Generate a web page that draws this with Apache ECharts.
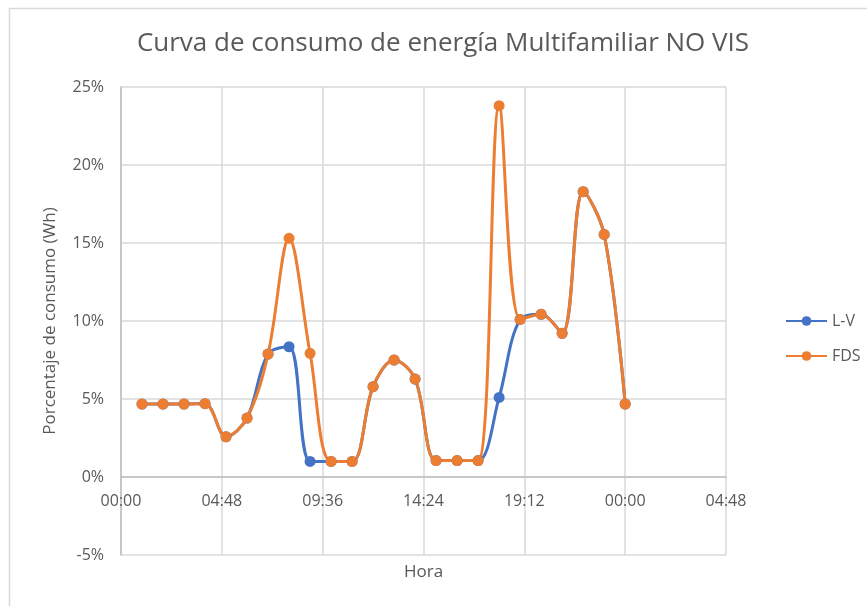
<!DOCTYPE html>
<html lang="es">
<head>
    <meta charset="UTF-8">
    <title>Curva de consumo de energía Multifamiliar NO VIS</title>
    <script src="https://cdn.jsdelivr.net/npm/echarts@6/dist/echarts.min.js"></script>
    <style>
        html, body { margin: 0; padding: 0; background: #fff; }
    </style>
</head>
<body>
<div id="chart" style="width: 867px;height: 606px;"></div>
<script>
    // hora del día (1 = 01:00 ... 24 = 00:00 del día siguiente)
    var horas = [1, 2, 3, 4, 5, 6, 7, 8, 9, 10, 11, 12, 13, 14, 15, 16, 17, 18, 19, 20, 21, 22, 23, 24];

    // porcentaje de consumo (%)
    var lv  = [4.68, 4.68, 4.68, 4.7, 2.58, 3.78, 7.88, 8.35, 1.0, 1.0, 1.0, 5.79, 7.5, 6.28, 1.05, 1.05, 1.05, 5.1, 10.1, 10.43, 9.21, 18.29, 15.55, 4.68];
    var fds = [4.68, 4.68, 4.68, 4.7, 2.58, 3.78, 7.88, 15.3, 7.93, 1.0, 1.0, 5.79, 7.5, 6.28, 1.05, 1.05, 1.05, 23.8, 10.1, 10.43, 9.21, 18.29, 15.55, 4.68];

    var pares = function (xs, ys) {
        var res = [];
        for (var i = 0; i < xs.length; i++) {
            res.push([xs[i], ys[i]]);
        }
        return res;
    };

    var horaLabel = function (v) {
        var min = Math.round(v * 60);
        var h = Math.floor(min / 60) % 24;
        var m = min % 60;
        return (h < 10 ? '0' : '') + h + ':' + (m < 10 ? '0' : '') + m;
    };

    var fuente = '"Open Sans", "Noto Sans", sans-serif';
    var gris = '#595959';

    var myChart = echarts.init(document.getElementById('chart'));

    var option = {
        backgroundColor: '#fff',
        animation: false,
        color: ['#4472C4', '#ED7D31'],
        title: {
            text: 'Curva de consumo de energía Multifamiliar NO VIS',
            left: 438,
            textAlign: 'center',
            top: 26,
            textStyle: {
                color: gris,
                fontFamily: fuente,
                fontWeight: 'normal',
                fontSize: 26
            }
        },
        graphic: [{
            type: 'rect',
            shape: { x: 9.5, y: 8.5, width: 900, height: 700 },
            style: { fill: 'none', stroke: '#d9d9d9', lineWidth: 1.5 },
            silent: true,
            z: -10
        }],
        legend: {
            orient: 'vertical',
            left: 780,
            top: 308,
            itemWidth: 41,
            itemHeight: 12,
            itemGap: 19,
            data: ['L-V', 'FDS'],
            textStyle: {
                color: gris,
                fontFamily: fuente,
                fontSize: 16
            }
        },
        grid: {
            left: 121,
            right: 141,
            top: 87,
            bottom: 51,
            outerBoundsMode: 'none'
        },
        xAxis: {
            type: 'value',
            min: 0,
            max: 28.8,
            interval: 4.8,
            // el eje cruza en 0 %: 5 % por encima del borde inferior
            offset: -78,
            name: 'Hora',
            nameLocation: 'middle',
            nameGap: 87,
            nameTextStyle: {
                color: gris,
                fontFamily: fuente,
                fontSize: 17
            },
            axisLine: {
                show: true,
                onZero: false,
                lineStyle: { color: '#bfbfbf', width: 1.5 }
            },
            axisTick: { show: false },
            axisLabel: {
                color: gris,
                fontFamily: fuente,
                fontSize: 16,
                margin: 16,
                formatter: horaLabel
            },
            splitLine: {
                show: true,
                lineStyle: { color: '#d9d9d9', width: 1.5 }
            }
        },
        yAxis: {
            type: 'value',
            min: -5,
            max: 25,
            interval: 5,
            name: 'Porcentaje de consumo (Wh)',
            nameLocation: 'middle',
            nameGap: 62,
            nameTextStyle: {
                color: gris,
                fontFamily: fuente,
                fontSize: 17
            },
            axisLine: {
                show: true,
                lineStyle: { color: '#bfbfbf', width: 1.5 }
            },
            axisTick: { show: false },
            axisLabel: {
                color: gris,
                fontFamily: fuente,
                fontSize: 16,
                margin: 17,
                formatter: '{value}%'
            },
            splitLine: {
                show: true,
                lineStyle: { color: '#d9d9d9', width: 1.5 }
            }
        },
        series: [{
            name: 'L-V',
            type: 'line',
            data: pares(horas, lv),
            smooth: 0.35,
            symbol: 'circle',
            symbolSize: 11,
            lineStyle: { width: 3 }
        }, {
            name: 'FDS',
            type: 'line',
            data: pares(horas, fds),
            smooth: 0.35,
            symbol: 'circle',
            symbolSize: 11,
            lineStyle: { width: 3 }
        }]
    };

    myChart.setOption(option);
</script>
</body>
</html>
